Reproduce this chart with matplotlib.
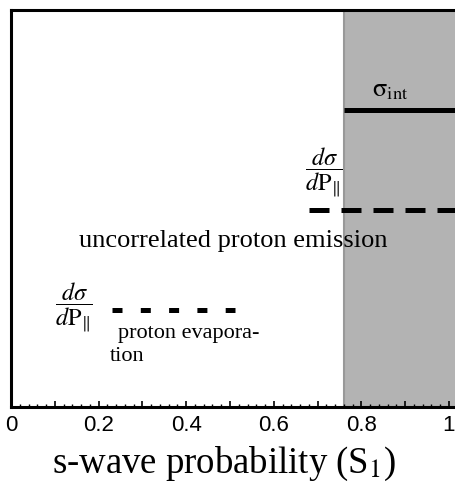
import numpy as np
import matplotlib
matplotlib.use('Agg')
import matplotlib.pyplot as plt
from matplotlib.ticker import MultipleLocator

# data
shade_range = [0.76, 1.02]
int_line_x = [0.76, 1.02]
int_line_y = [0.748, 0.748]
uncorr_x = [0.68, 1.02]
uncorr_y = [0.496, 0.496]
evap_x = [0.231, 0.511]
evap_y = [0.244, 0.244]
tick_vals = [0, 0.1, 0.2, 0.3, 0.4, 0.5, 0.6, 0.7, 0.8, 0.9, 1]
tick_labels = ['0', '', '0.2', '', '0.4', '', '0.6', '', '0.8', '', '1']

plt.rcParams['mathtext.fontset'] = 'stix'

fig = plt.figure(figsize=(4.55, 4.9), dpi=100)
# axes run past the right edge of the picture, as in the original
ax = fig.add_axes([11 / 455, 1 - 407 / 490, 446 / 455, 397 / 490])
ax.set_xlim(0, 446 / 438)
ax.set_ylim(0, 1)

ax.axvspan(shade_range[0], shade_range[1], facecolor='#b3b3b3', edgecolor='#999999', lw=1.5)

ax.plot(int_line_x, int_line_y, color='black', lw=3.6, solid_capstyle='butt')
ax.plot(uncorr_x, uncorr_y, color='black', lw=3.6, linestyle=(0, (4.0, 2.4)), dash_capstyle='butt')
ax.plot(evap_x, evap_y, color='black', lw=3.6, linestyle=(0, (2.0, 3.66)), dash_capstyle='butt')

serif = 'Liberation Serif'
frac = r'$\dfrac{d\sigma}{d\mathrm{P}_{\|}}$'
ax.text(0.824, 0.795, r'$\mathrm{\sigma_{int}}$', fontsize=19, family=serif, ha='left', va='center')
ax.text(0.671, 0.589, frac, fontsize=17.5, ha='left', va='center')
ax.text(0.155, 0.418, 'uncorrelated proton emission', fontsize=19, family=serif, ha='left', va='center')
ax.text(0.100, 0.249, frac, fontsize=17.5, ha='left', va='center')
ax.text(0.244, 0.184, 'proton evapora-', fontsize=16, family=serif, ha='left', va='center')
ax.text(0.226, 0.128, 'tion', fontsize=16, family=serif, ha='left', va='center')

for side in ['left', 'bottom', 'top', 'right']:
    ax.spines[side].set_linewidth(2.2)

ax.set_yticks([])
ax.set_xticks(tick_vals)
ax.set_xticklabels(tick_labels, family='Liberation Sans', fontsize=16)
ax.xaxis.set_minor_locator(MultipleLocator(0.02))
ax.tick_params(axis='x', which='major', direction='in', length=4, width=1.2, pad=6)
ax.tick_params(axis='x', which='minor', direction='in', length=2.2, width=1)

fig.text(224 / 455, 1 - 464 / 490, r's-wave probability (S$_1$)', fontsize=26.5,
         family=serif, ha='center', va='center')

fig.savefig('out.png', dpi=100)
